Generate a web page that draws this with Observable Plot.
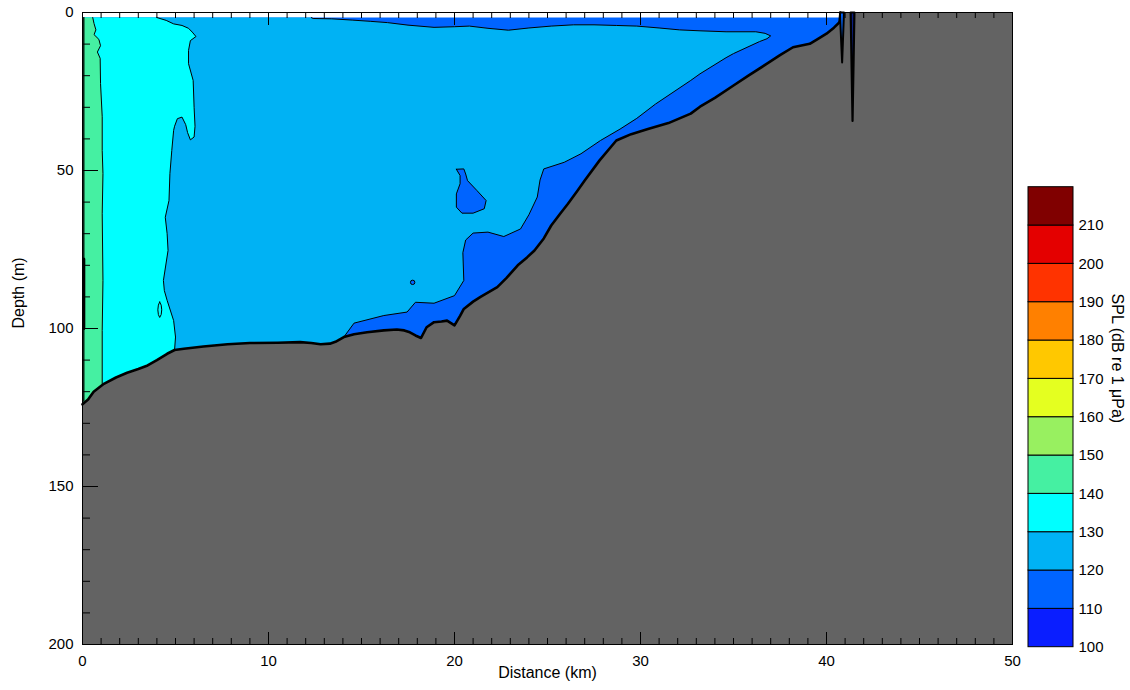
<!DOCTYPE html>
<html><head><meta charset="utf-8">
<script src="https://cdn.jsdelivr.net/npm/d3@7"></script>
<script src="https://cdn.jsdelivr.net/npm/@observablehq/plot@0.6"></script>
<style>
html,body{margin:0;padding:0;background:#fff;}
#chart{position:relative;width:1130px;height:690px;font-family:"Liberation Sans",Arial,sans-serif;}
#chart svg{position:absolute;top:0;overflow:visible;}
</style></head><body><div id="chart"></div>
<script>
// ---------- data (distance km, depth m) ----------
const SURFACE = 1.6;
const seafloor = [[0,124],[0.3,122.5],[0.6,120],[1.15,117.5],[1.8,115.5],[2.4,114],[3.0,112.8],[3.5,111.7],[4.0,110],[4.55,108],[4.95,106.8],[5.45,106.4],[6.5,105.7],[7.8,105],[9.0,104.6],[10.5,104.5],[11.7,104.3],[12.3,104.6],[12.8,105],[13.3,104.8],[13.6,104.2],[14.05,102.7],[14.6,101.8],[15.3,101.2],[16.2,100.6],[16.9,100.3],[17.3,100.6],[17.6,101.2],[17.9,102.2],[18.2,103],[18.5,99.6],[18.9,98],[19.3,97.8],[19.6,97.5],[20.0,99],[20.3,96],[20.5,93.8],[21.0,91.5],[21.4,90],[22.3,86.9],[22.8,84],[23.4,80],[23.9,77.5],[24.3,75.3],[24.8,71.5],[25.2,67.4],[25.7,63.5],[26.1,60.5],[26.6,56.5],[27.0,53.2],[27.8,46.8],[28.7,40.5],[29.5,38.5],[30.4,36.9],[31.5,35],[32.7,32],[33.2,29.8],[34.0,27],[35.0,23.1],[35.8,20],[36.8,16.2],[37.5,13.5],[38.2,11],[39.1,9.9],[39.5,8.5],[40.0,6.7],[40.4,4.8],[40.7,3.1],[40.75,0]];
const topContour = [[12.3,1.6],[12.4,1.9],[13.4,2.0],[14.5,2.4],[15.5,2.8],[16.4,3.2],[17.5,4.0],[18.9,4.7],[20.0,4.5],[20.8,4.3],[21.8,5.0],[22.9,5.6],[24.0,4.9],[25.2,4.3],[26.4,3.9],[27.5,3.9],[28.7,4.1],[29.8,4.3],[31.0,4.9],[32.1,5.5],[33.2,5.8],[34.6,6.1],[36.2,6.1],[36.7,6.6],[37.0,7.4]];
const bottomContour = [[37.0,7.4],[36.8,8.3],[36.4,9.2],[35.0,13.0],[34.6,14.3],[33.2,19.4],[32.7,21.5],[30.8,29.0],[29.8,33.5],[28.9,36.9],[27.85,40.5],[26.8,44.7],[25.9,47.4],[24.8,49.5],[24.6,53],[24.45,58.4],[24.0,64],[23.55,68.5],[22.65,70.9],[21.8,69.5],[21.0,69.8],[20.6,72],[20.45,76],[20.5,84.8],[20.0,89.6],[18.9,92.0],[17.9,91.7],[17.45,94.8],[16.2,95.9],[14.6,98.3],[14.05,102.7]];
const cyanBoundary = [[4.0,1.6],[4.5,2.5],[4.9,3.6],[5.35,4.1],[5.7,5.0],[5.9,6.2],[6.1,7.6],[5.8,8.9],[5.7,12],[5.7,16.2],[5.95,21.5],[6.0,30],[6.05,36],[6.0,39.4],[5.8,40.3],[5.65,38],[5.55,35.5],[5.35,33.1],[5.1,33.6],[4.95,36],[4.9,37.3],[4.8,43.7],[4.7,51],[4.65,59.5],[4.45,64.8],[4.55,70],[4.6,75.3],[4.35,84.8],[4.4,88],[4.55,91.1],[4.9,97.5],[5.0,102.7],[4.95,106.8]];
const mintBoundary = [[0.55,1.6],[0.62,3.5],[0.72,5.5],[0.62,7],[0.88,8.5],[0.97,10.5],[0.8,12.5],[0.95,14.5],[0.97,22.5],[1.06,33],[1.06,43.7],[1.1,51],[1.06,63.7],[1.1,84.8],[1.06,100.6],[1.06,117.4]];
const blob = [[20.1,49.6],[20.5,49.5],[20.6,51.1],[20.7,53.2],[21.2,56.3],[21.7,59.5],[21.6,62.1],[21.0,63.5],[20.4,63.5],[20.1,61.6],[20.1,57.4],[20.3,54.2],[20.3,51.6],[20.1,49.6]];
const smallLoop = [[4.15,91.6],[4.23,92.6],[4.26,94.1],[4.23,95.6],[4.15,96.5],[4.08,95.6],[4.05,94.1],[4.08,92.6],[4.15,91.6]];
const smallDot = [[17.75,85.4]];
const sourceLine = [[0.07,1.6],[0.07,123]];
const sourceHeavy = [[0.07,78],[0.07,100]];
const spikeA = [[40.72,0],[40.94,0],[40.84,15.8],[40.72,0]];
const spikeB = [[41.3,0],[41.5,0],[41.4,34.3],[41.3,0]];
const xMajor = d3.range(0, 51, 10);
const xMinor = d3.range(0, 51, 1);
const yMajor = d3.range(0, 201, 50);
const yMinor = d3.range(0, 201, 10);
const splLevels = [100,110,120,130,140,150,160,170,180,190,200,210];
const splColors = ["#0a1eff","#0064ff","#00b2f4","#00ffff","#45f0a2","#98f060","#e4ff20","#ffc800","#ff8000","#ff3300","#e40000","#800000"];
const splTicks = [100,110,120,130,140,150,160,170,180,190,200,210];
const splTitle = "SPL (dB re 1 μPa)";
const GRAY = "#636363";

// ---------- polygons composed from the curves ----------
const darkPoly = [[0,SURFACE],[40.7,SURFACE], ...seafloor.filter(d => d[0] <= 40.7).reverse()];
const lightPoly = [[0,SURFACE], ...topContour, ...bottomContour.slice(1), ...seafloor.filter(d => d[0] < 14.05).reverse()];
const cyanPoly = [[0,SURFACE], ...cyanBoundary, ...seafloor.filter(d => d[0] < 4.95).reverse()];
const mintPoly = [[0,SURFACE], ...mintBoundary, ...seafloor.filter(d => d[0] < 1.06).reverse()];
const grayPoly = [...seafloor, [50,0],[50,200],[0,200]];
const contour120 = [...topContour, ...bottomContour.slice(1)];

const W = 1130, H = 690, mL = 82, mR = 118, mT = 12, mB = 46;
const pw = W - mL - mR, ph = H - mT - mB;
const X = d => d[0], Y = d => d[1];
const poly = (data, fill, extra = {}) => Plot.line(data, {x: X, y: Y, fill, stroke: "none", ...extra});
const cline = (data, w = 1) => Plot.line(data, {x: X, y: Y, stroke: "black", strokeWidth: w, fill: "none"});

const main = Plot.plot({
  width: W, height: H, marginLeft: mL, marginRight: mR, marginTop: mT, marginBottom: mB,
  x: {domain: [0, 50], axis: null},
  y: {domain: [0, 200], reverse: true, axis: null},
  style: {fontFamily: '"Liberation Sans", Arial, sans-serif', fontSize: "15px", color: "black", background: "transparent"},
  marks: [
    poly(darkPoly, splColors[1]),
    poly(lightPoly, splColors[2]),
    poly(cyanPoly, splColors[3]),
    poly(mintPoly, splColors[4]),
    poly(blob, splColors[1]),
    cline(contour120),
    cline(cyanBoundary),
    cline(mintBoundary),
    cline(blob),
    cline(smallLoop),
    Plot.dot(smallDot, {x: X, y: Y, r: 2.2, stroke: "black", fill: splColors[1], strokeWidth: 1}),
    cline(sourceLine, 1.3),
    cline(sourceHeavy, 3),
    poly(grayPoly, GRAY),
    cline(seafloor.filter(d => d[0] <= 40.7), 2.6),
    cline([[40.7,3.1],[40.75,0]], 2.6),
    poly(spikeA, splColors[1], {stroke: "black", strokeWidth: 2}),
    poly(spikeB, "#0a1e80", {stroke: "black", strokeWidth: 2.2}),
    // ticks pointing inward
    Plot.ruleX(xMinor, {x: d => d, insetTop: ph - 6, stroke: "black"}),
    Plot.ruleX(xMajor, {x: d => d, insetTop: ph - 12, stroke: "black"}),
    Plot.ruleX(xMinor, {x: d => d, insetBottom: ph - 6, stroke: "black"}),
    Plot.ruleX(xMajor, {x: d => d, insetBottom: ph - 13, stroke: "black"}),
    Plot.ruleY(yMinor, {y: d => d, insetRight: pw - 8, stroke: "black"}),
    Plot.ruleY(yMajor, {y: d => d, insetRight: pw - 16, stroke: "black"}),
    Plot.frame({stroke: "black", strokeWidth: 1}),
    Plot.axisX({ticks: xMajor, tickSize: 0, tickPadding: 11, fontSize: 15, label: null}),
    Plot.axisY({ticks: yMajor, tickSize: 0, tickPadding: 9, fontSize: 15, label: null}),
    Plot.text(["Distance (km)"], {frameAnchor: "bottom", dy: 33, fontSize: 16}),
    Plot.text(["Depth (m)"], {frameAnchor: "left", dx: -64, rotate: -90, fontSize: 16})
  ]
});
main.style.left = "0px";

const cb = Plot.plot({
  width: 102, height: H, marginLeft: 0, marginRight: 57, marginTop: 186.7, marginBottom: 43.3,
  x: {domain: [0, 1], axis: null},
  y: {domain: [100, 220], axis: null},
  color: {type: "identity"},
  style: {fontFamily: '"Liberation Sans", Arial, sans-serif', fontSize: "15px", color: "black", background: "transparent", overflow: "visible"},
  marks: [
    Plot.rect(splLevels, {x1: 0, x2: 1, y1: d => d, y2: d => d + 10, fill: (d, i) => splColors[i], stroke: "black", strokeWidth: 1}),
    Plot.axisY({anchor: "right", ticks: splTicks, tickSize: 0, tickPadding: 5, fontSize: 15, label: null}),
    Plot.text([splTitle], {frameAnchor: "right", dx: 44, dy: 6, rotate: 90, fontSize: 16})
  ]
});
cb.style.left = "1028px";

const root = document.getElementById("chart");
root.appendChild(main);
root.appendChild(cb);
</script></body></html>
